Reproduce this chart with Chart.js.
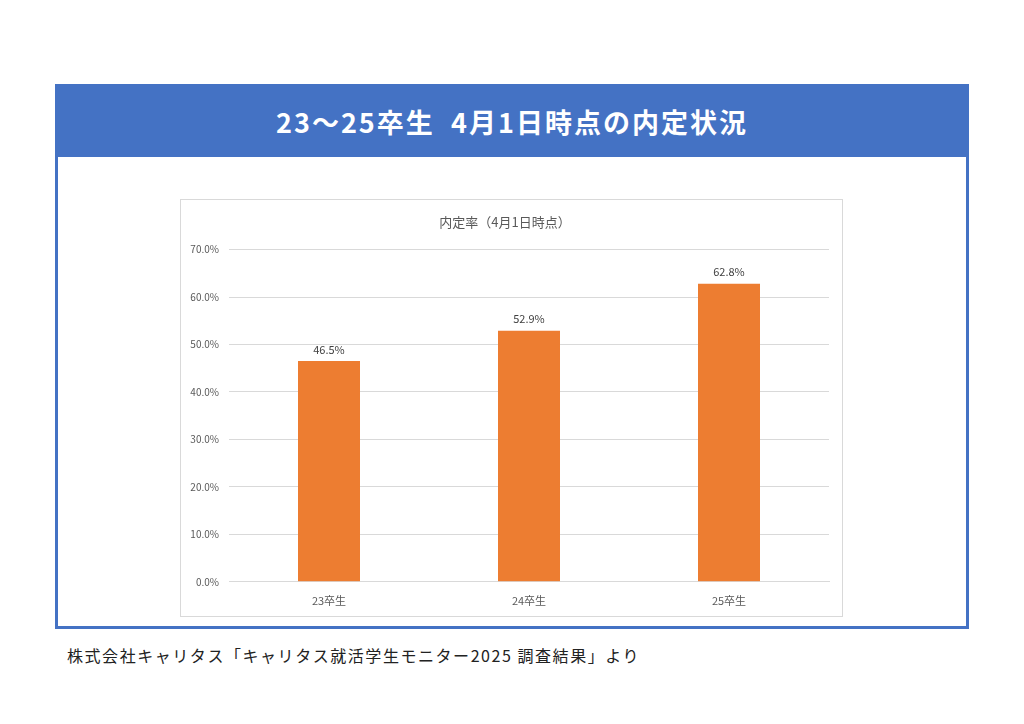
<!DOCTYPE html>
<html>
<head>
<meta charset="utf-8">
<script src="https://cdn.jsdelivr.net/npm/chart.js@4"></script>
<style>
  body { margin: 0; background: #fff; font-family: "Noto Sans CJK JP", sans-serif; }
  #frame { position: absolute; left: 55px; top: 84px; width: 908px; height: 539px; border: 3px solid #4472C4; }
  #head { position: absolute; left: 0; top: 0; width: 908px; height: 70px; background: #4472C4; color: #fff;
          font-size: 27px; font-weight: bold; text-align: center; line-height: 70px; letter-spacing: 2px; }
  #panel { position: absolute; left: 180px; top: 199px; width: 661px; height: 416px; border: 1px solid #D9D9D9; }
  #note { position: absolute; left: 67px; top: 643px; font-size: 16px; color: #222; letter-spacing: 1.55px; }
</style>
</head>
<body>
<div id="frame"><div id="head">23～25卒生&nbsp;&nbsp;4月1日時点の内定状況</div></div>
<div id="panel"><canvas id="myChart" width="661" height="416"></canvas></div>
<div id="note">株式会社キャリタス「キャリタス就活学生モニター2025 調査結果」より</div>
<script>
// categories and values (percent)
const categories = ['23卒生', '24卒生', '25卒生'];
const rates = [46.5, 52.9, 62.8];
const chartTitle = '内定率（4月1日時点）';

// draw value labels above each bar
const valueLabels = {
    id: 'valueLabels',
    afterDatasetsDraw(chart) {
        const ctx = chart.ctx;
        const meta = chart.getDatasetMeta(0);
        ctx.save();
        ctx.font = '11px "Noto Sans CJK JP"';
        ctx.fillStyle = '#404040';
        ctx.textAlign = 'center';
        ctx.textBaseline = 'bottom';
        meta.data.forEach((bar, i) => {
            ctx.fillText(rates[i].toFixed(1) + '%', bar.x, bar.y - 6);
        });
        ctx.restore();
    }
};

let ctx0 = document.getElementById('myChart').getContext('2d');
var chart = new Chart(ctx0, {
    type: 'bar',
    data: {
        labels: categories,
        datasets: [{
            label: chartTitle,
            backgroundColor: '#ED7D31',
            borderColor: '#ED7D31',
            data: rates,
            categoryPercentage: 1,
            barPercentage: 0.31
        }]
    },
    options: {
        responsive: false,
        animation: false,
        layout: { padding: { top: 14, right: 13, bottom: 5, left: 0 } },
        plugins: {
            legend: { display: false },
            tooltip: { enabled: false },
            title: {
                display: true,
                text: chartTitle,
                color: '#595959',
                font: { family: 'Noto Sans CJK JP', size: 13, weight: 'normal' },
                padding: { top: 0, bottom: 20 }
            }
        },
        scales: {
            x: {
                grid: { display: false },
                border: { color: '#D9D9D9' },
                ticks: { color: '#595959', font: { family: 'Noto Sans CJK JP', size: 11 }, padding: 4 }
            },
            y: {
                min: 0,
                max: 70,
                afterFit(scale) { scale.width = 48; },
                grid: { color: '#D9D9D9', drawTicks: false },
                border: { display: false },
                ticks: {
                    stepSize: 10,
                    padding: 10,
                    color: '#595959',
                    font: { family: 'Noto Sans CJK JP', size: 10 },
                    callback: v => v.toFixed(1) + '%'
                }
            }
        }
    },
    plugins: [valueLabels]
});
</script>
</body>
</html>
